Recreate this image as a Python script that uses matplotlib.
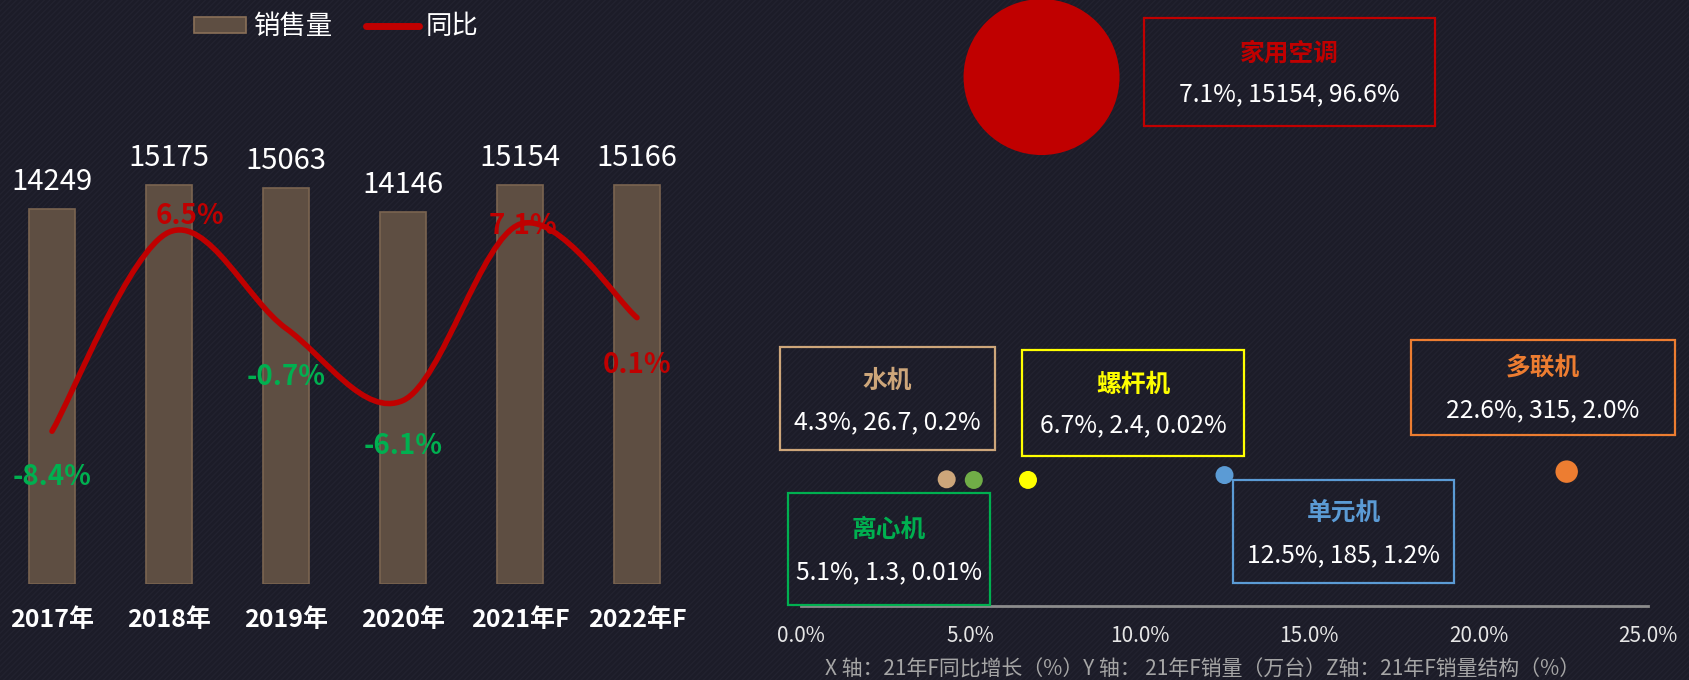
import numpy as np
import matplotlib
matplotlib.use('Agg')
import matplotlib.pyplot as plt
from matplotlib.path import Path
from matplotlib.patches import PathPatch, Rectangle, Patch
from matplotlib.lines import Line2D

plt.rcParams['font.family'] = ['Noto Sans CJK SC', 'DejaVu Sans']
plt.rcParams['hatch.linewidth'] = 1.0

# ---------------- data ----------------
years = ["2017年", "2018年", "2019年", "2020年", "2021年F", "2022年F"]
sales = [14249, 15175, 15063, 14146, 15154, 15166]
yoy = [-8.4, 6.5, -0.7, -6.1, 7.1, 0.1]

segments = ["家用空调", "水机", "螺杆机", "多联机", "离心机", "单元机"]
growth = [7.1, 4.3, 6.7, 22.6, 5.1, 12.5]
volume = [15154, 26.7, 2.4, 315, 1.3, 185]
share = [96.6, 0.2, 0.02, 2.0, 0.01, 1.2]
x_ticks = [0, 5, 10, 15, 20, 25]
axis_note = "X 轴：21年F同比增长（%）Y 轴： 21年F销量（万台）Z轴：21年F销量结构（%）"
legend_labels = ["销售量", "同比"]

# ---------------- styles / layout ----------------
W, H, DPI = 1689, 680, 100
BG = '#1C1C28'
BAR = '#5E4E42'
BAR_EDGE = '#7A6450'
RED = '#C00000'
GREEN = '#00B050'
seg_colors = {"家用空调": '#C00000', "水机": '#CDA67A', "螺杆机": '#FFFF00',
              "多联机": '#ED7D31', "离心机": '#00B050', "单元机": '#5B9BD5'}
bubble_colors = {"家用空调": '#C00000', "水机": '#CDA67A', "螺杆机": '#FFFF00',
                 "多联机": '#ED7D31', "离心机": '#70AD47', "单元机": '#5B9BD5'}
# box: x0, y0, x1, y1, title_y, value_y  (figure pixels, top-left origin)
boxes = {"家用空调": (1144, 18, 1435, 126, 54, 94),
         "水机": (780, 347, 995, 450, 381, 422),
         "螺杆机": (1022, 350, 1244, 456, 385, 425),
         "多联机": (1411, 340, 1675, 435, 368, 410),
         "离心机": (788, 493, 990, 605, 530, 572),
         "单元机": (1233, 480, 1454, 583, 513, 555)}
pct_offsets = [(0, -46), (21, 16), (0, -49), (0, -46), (3, -2), (0, -47)]


def fx(px):
    return px / W


def fy(py):
    return 1 - py / H


fig = plt.figure(figsize=(W / DPI, H / DPI), dpi=DPI)
fig.patch.set_facecolor(BG)

bgax = fig.add_axes([0, 0, 1, 1], zorder=-5)
bgax.set_axis_off()
bgax.set_xlim(0, W)
bgax.set_ylim(H, 0)
bgax.add_patch(Rectangle((0, 0), W, H, facecolor=BG, edgecolor='#22222F',
                         hatch='//////', lw=0))

# ---------------- left: bars + smooth line ----------------
axL = fig.add_axes([0, fy(584), 700 / W, (584 - 100) / H])
axL.set_facecolor('none')
x = np.arange(len(years))
axL.bar(x, sales, width=0.40, color=BAR, edgecolor=BAR_EDGE, linewidth=1.2, zorder=2)
axL.set_xlim(-52 / 117, (700 - 52) / 117)
axL.set_ylim(0, 484 / 0.0263)
for s in axL.spines.values():
    s.set_visible(False)
axL.set_yticks([])
axL.set_xticks(x, years)
axL.tick_params(axis='x', length=0, pad=17, labelsize=18, labelcolor='white')
for lab in axL.get_xticklabels():
    lab.set_fontweight('bold')
for xi, v in zip(x, sales):
    axL.annotate(f"{v}", (xi, v), xytext=(0, 27), textcoords='offset pixels',
                 ha='center', va='center', color='white', fontsize=21)

ax2 = axL.twinx()
ax2.set_facecolor('none')
ax2.set_ylim((319 - 584) / 13.36, (319 - 100) / 13.36)
ax2.set_yticks([])
for s in ax2.spines.values():
    s.set_visible(False)

P = np.column_stack([x, yoy]).astype(float)
n = len(P)
verts = [P[0]]
codes = [Path.MOVETO]
for i in range(n - 1):
    p0 = P[i - 1] if i > 0 else P[i]
    p3 = P[i + 2] if i + 2 < n else P[i + 1]
    c1 = P[i] + (P[i + 1] - p0) / 6
    c2 = P[i + 1] - (p3 - P[i]) / 6
    verts += [c1, c2, P[i + 1]]
    codes += [Path.CURVE4] * 3
ax2.add_patch(PathPatch(Path(verts, codes), facecolor='none', edgecolor=RED,
                        lw=4, capstyle='round', joinstyle='round', zorder=3))
for xi, v, off in zip(x, yoy, pct_offsets):
    ax2.annotate(f"{v:.1f}%", (xi, v), xytext=off, textcoords='offset pixels',
                 ha='center', va='center', fontsize=20, fontweight='bold',
                 color=RED if v >= 0 else GREEN, zorder=4)

handles = [Patch(facecolor=BAR, edgecolor='#8A7058', lw=1.2),
           Line2D([], [], color=RED, lw=5, solid_capstyle='round')]
fig.legend(handles, legend_labels, loc='upper center', bbox_to_anchor=(fx(336), 1.0),
           ncol=2, frameon=False, fontsize=19, labelcolor='white', handlelength=2.0,
           handleheight=0.55, handletextpad=0.25, columnspacing=1.3, borderaxespad=0.1)

# ---------------- right: bubble chart ----------------
axB = fig.add_axes([fx(801), fy(606), (1648 - 801) / W, 606 / H])
axB.set_facecolor('none')
axB.set_xlim(0, 25)
axB.set_ylim(-126 / 0.02659, 480 / 0.02659)
for k, s in axB.spines.items():
    s.set_visible(k == 'bottom')
axB.spines['bottom'].set_color('#8C8C8C')
axB.spines['bottom'].set_linewidth(2)
axB.set_yticks([])
axB.set_xticks(x_ticks, [f"{t:.1f}%" for t in x_ticks])
axB.tick_params(axis='x', length=0, pad=14, labelsize=15, labelcolor='#E6E6E6')

zmax = max(share)
for name, gx, vy, z in zip(segments, growth, volume, share):
    d_px = max(18.0, 156.0 * np.sqrt(z / zmax))
    axB.scatter([gx], [vy], s=(d_px * 0.72) ** 2, color=bubble_colors[name],
                edgecolors='none', zorder=3, clip_on=False)

fig.text(fx(1203), fy(670), axis_note, ha='center', va='center',
         color='#A6A6A6', fontsize=15)

# label boxes
ov = fig.add_axes([0, 0, 1, 1], zorder=10)
ov.set_axis_off()
ov.set_facecolor('none')
ov.set_xlim(0, W)
ov.set_ylim(H, 0)


def fmt_y(v):
    return f"{v:.0f}" if v >= 100 else f"{v:.1f}"


def fmt_z(v):
    return f"{v:.1f}%" if v >= 0.1 else f"{v:.2f}%"


for name, gx, vy, z in zip(segments, growth, volume, share):
    x0, y0, x1, y1, ty, vy_px = boxes[name]
    c = seg_colors[name]
    ov.add_patch(Rectangle((x0, y0), x1 - x0, y1 - y0, facecolor='none',
                           edgecolor=c, lw=1.6))
    cx = (x0 + x1) / 2
    ov.text(cx, ty, name, ha='center', va='center', color=c, fontsize=17.8,
            fontweight='bold')
    ov.text(cx, vy_px, f"{gx:.1f}%, {fmt_y(vy)}, {fmt_z(z)}", ha='center',
            va='center', color='white', fontsize=17.8)

fig.savefig('out.png', dpi=DPI, facecolor=BG)
